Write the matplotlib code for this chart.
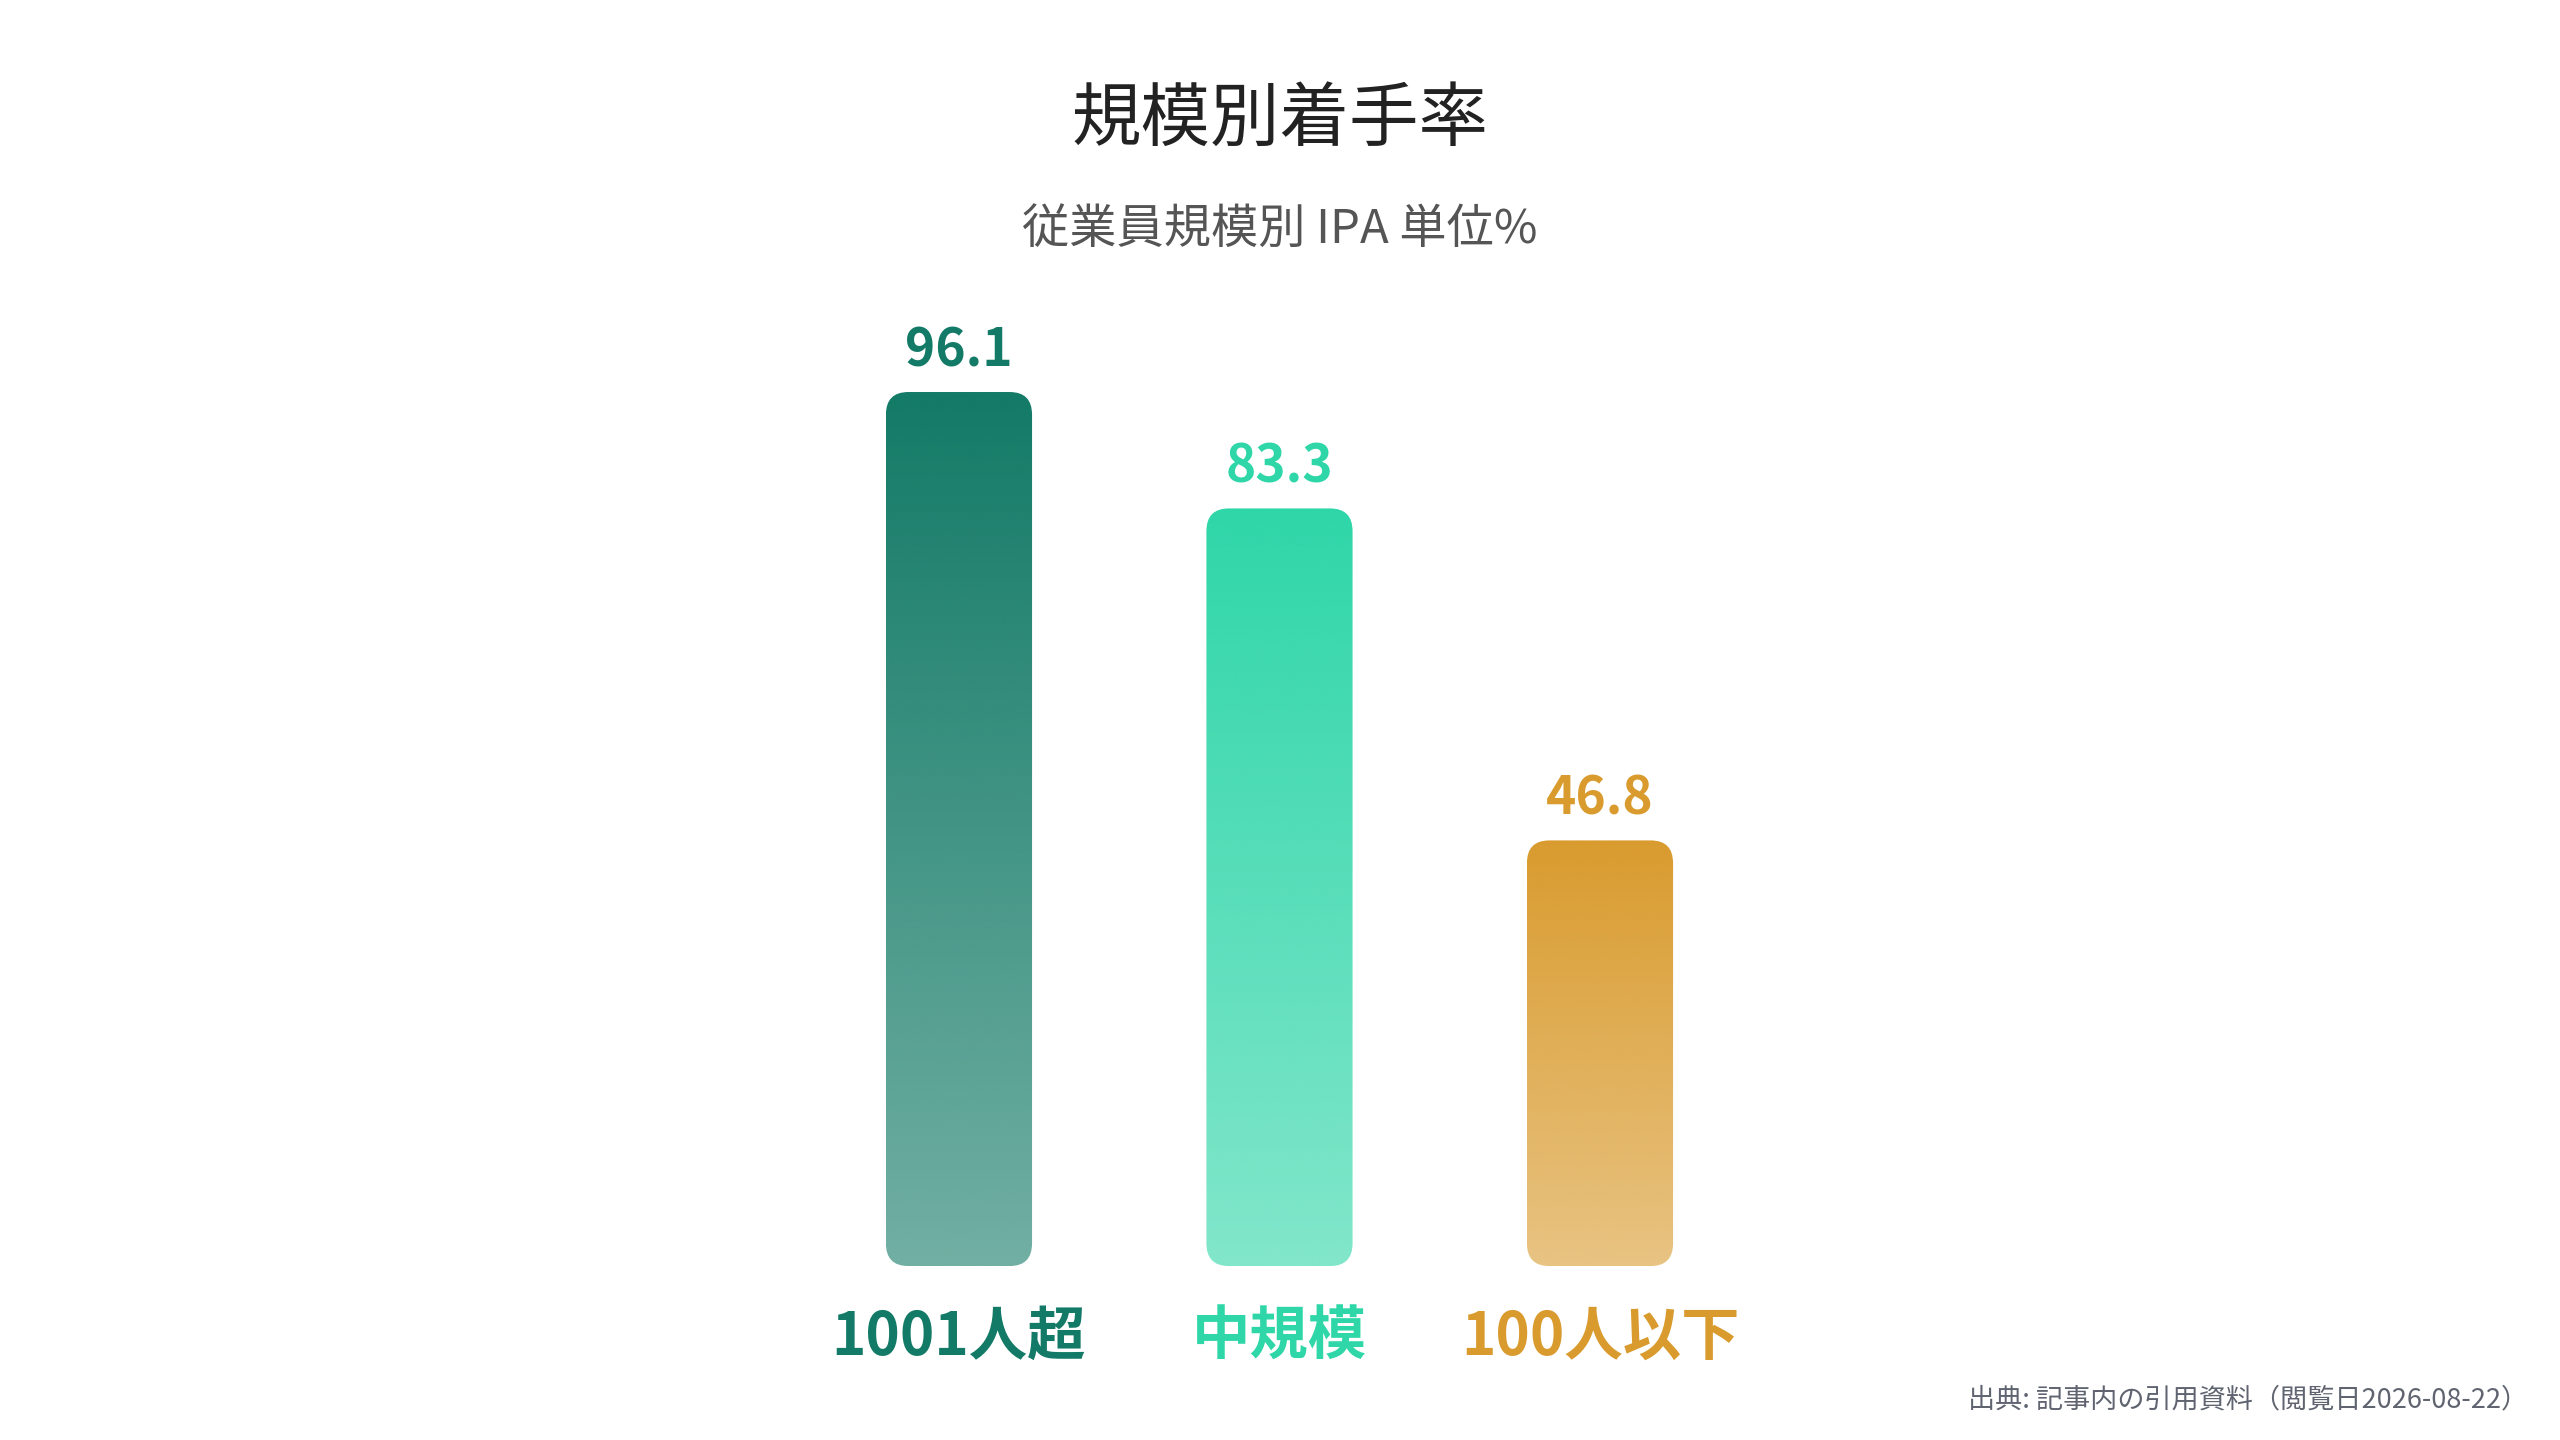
import matplotlib
matplotlib.use("Agg")
import matplotlib.pyplot as plt
from matplotlib.patches import FancyBboxPatch
from matplotlib.colors import to_rgb
import numpy as np

plt.rcParams['font.family'] = ['Noto Sans CJK JP', 'DejaVu Sans']

categories = ['1001人超', '中規模', '100人以下']
values = [96.1, 83.3, 46.8]
colors = ['#127A66', '#2ED6A8', '#D99B2E']

title = '規模別着手率'
subtitle = '従業員規模別 IPA 単位%'
source = '出典: 記事内の引用資料（閲覧日2026-08-22）'

fig = plt.figure(figsize=(25.6, 14.4), dpi=100)
fig.patch.set_facecolor('white')

# axes placed so that 0 sits at the bar baseline
ax = fig.add_axes([0.312, 0.1208, 0.3756, 0.6316])
ax.set_xlim(-0.5, 2.5)
ax.set_ylim(0, 100)
ax.axis('off')

bar_w = 0.456
rx = 0.07
ry = 2.5

for i, (v, c) in enumerate(zip(values, colors)):
    x0 = i - bar_w / 2
    patch = FancyBboxPatch((x0, 0), bar_w, v,
                           boxstyle=f"round,pad=0,rounding_size={rx}",
                           mutation_aspect=ry / rx,
                           facecolor='none', edgecolor='none')
    ax.add_patch(patch)
    # vertical gradient: full colour at the top, faded at the bottom
    rgb = to_rgb(c)
    n = 256
    grad = np.zeros((n, 1, 4))
    grad[:, 0, :3] = rgb
    grad[:, 0, 3] = np.linspace(1.0, 0.6, n)
    im = ax.imshow(grad, extent=(x0, x0 + bar_w, 0, v), origin='upper',
                   aspect='auto', interpolation='bicubic', zorder=2)
    im.set_clip_path(patch)

    ax.annotate(f'{v:.1f}', (i, v), xytext=(0, 15), textcoords='offset pixels',
                ha='center', va='bottom', fontsize=37, fontweight='bold',
                color=c)
    ax.annotate(categories[i], (i, 0), xytext=(0, -72), textcoords='offset pixels',
                ha='center', va='center', fontsize=42, fontweight='bold',
                color=c)

fig.text(0.5, 1 - 120 / 1440, title, ha='center', va='center',
         fontsize=50, color='#222222')
fig.text(0.5, 1 - 230 / 1440, subtitle, ha='center', va='center',
         fontsize=34, color='#555555')
fig.text(2528 / 2560, 1 - 1400 / 1440, source, ha='right', va='center',
         fontsize=19.5, color='#5F6470')

fig.savefig('out.png', dpi=100, facecolor='white')
